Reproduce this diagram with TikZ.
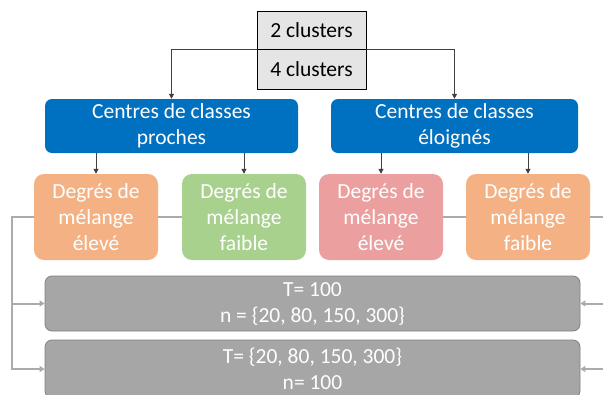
\documentclass[tikz,border=0pt]{standalone}
\usepackage{fontspec}
\setmainfont{Carlito}
\usetikzlibrary{arrows.meta}
\definecolor{boxblue}{HTML}{0070C0}
\definecolor{boxorange}{HTML}{F4B183}
\definecolor{boxgreen}{HTML}{A9D18E}
\definecolor{boxpink}{HTML}{EC9F9F}
\definecolor{boxgray}{HTML}{A6A6A6}
\definecolor{linegray}{HTML}{ABABAB}
\begin{document}
\begin{tikzpicture}[x=1pt,y=-1pt,
	every node/.style={font=\fontsize{21.5}{26}\selectfont,align=center,inner sep=0pt},
	clusterbox/.style={draw=black,line width=1pt,fill=black!10,minimum width=109pt},
	centrebox/.style={fill=boxblue,text=white,rounded corners=7pt,minimum height=54pt},
	degbox/.style={text=white,rounded corners=10pt,minimum width=124pt,minimum height=86pt},
	paramsbox/.style={draw=black!50,line width=0.8pt,fill=boxgray,text=white,rounded corners=7pt,minimum width=535pt},
	darrow/.style={draw=black!75,line width=1pt,-{Triangle[length=5pt,width=5pt]}},
	garrow/.style={draw=linegray,line width=2pt,-{Triangle[length=5pt,width=6pt]}},
	gline/.style={draw=linegray,line width=2pt}]
\clip (0,0) rectangle (603,394);
% boites du haut
\node[clusterbox,minimum height=38pt] (C2) at (311.5,30) {2 clusters};
\node[clusterbox,minimum height=40pt] (C4) at (311.5,69) {4 clusters};
\node[centrebox,minimum width=253pt] (P) at (171.5,126) {Centres de classes\\proches};
\node[centrebox,minimum width=247pt] (E) at (454.5,126) {Centres de classes\\éloignés};
% degres de melange
\node[degbox,fill=boxorange] (PE) at (96,217) {Degrés de\\mélange\\élevé};
\node[degbox,fill=boxgreen] (PF) at (244,217) {Degrés de\\mélange\\faible};
\node[degbox,fill=boxpink] (EE) at (381,217) {Degrés de\\mélange\\élevé};
\node[degbox,fill=boxorange] (EF) at (528,217) {Degrés de\\mélange\\faible};
% parametres
\node[paramsbox,minimum height=55pt] (G1) at (312.5,303.5) {T= 100\\n = \{20, 80, 150, 300\}};
\node[paramsbox,minimum height=58pt] (G2) at (312.5,369) {T= \{20, 80, 150, 300\}\\n= 100};
\coordinate (L) at (12,217);
\coordinate (R) at (603,217);
% fleches
\draw[darrow] (C2.south west) -| (P.north);
\draw[darrow] (C2.south east) -| (E.north);
\foreach \b/\d in {P/PE,P/PF,E/EE,E/EF}
	\draw[darrow] (\d.north |- \b.south) -- (\d.north);
\draw[gline] (PE.east) -- (PF.west);
\draw[gline] (EE.east) -- (EF.west);
\draw[gline] (EF.east) -- (R);
\draw[garrow] (PE.west) -- (L) |- (G1.west);
\draw[garrow] (L) |- (G2.west);
\draw[garrow] (R |- G1.east) -- (G1.east);
\draw[garrow] (R |- G2.east) -- (G2.east);
\end{tikzpicture}
\end{document}
